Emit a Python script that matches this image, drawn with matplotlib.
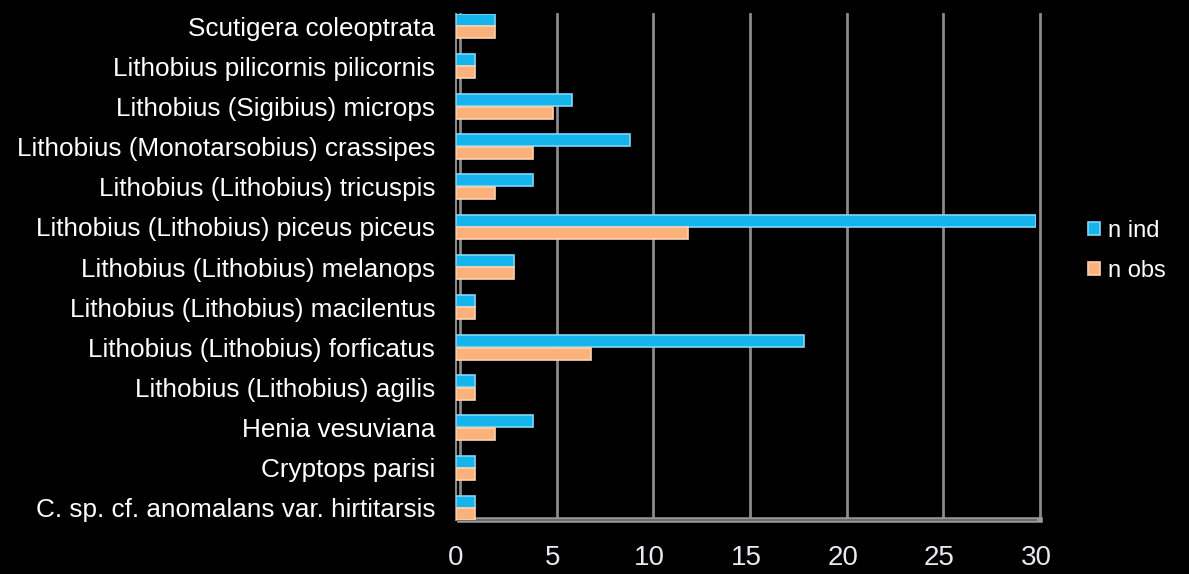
import matplotlib
matplotlib.use("Agg")
import matplotlib.pyplot as plt
import matplotlib.transforms as mtransforms
import numpy as np

categories = [
    "Scutigera coleoptrata",
    "Lithobius pilicornis pilicornis",
    "Lithobius (Sigibius) microps",
    "Lithobius (Monotarsobius) crassipes",
    "Lithobius (Lithobius) tricuspis",
    "Lithobius (Lithobius) piceus piceus",
    "Lithobius (Lithobius) melanops",
    "Lithobius (Lithobius) macilentus",
    "Lithobius (Lithobius) forficatus",
    "Lithobius (Lithobius) agilis",
    "Henia vesuviana",
    "Cryptops parisi",
    "C. sp. cf. anomalans var. hirtitarsis",
]
n_ind = [2, 1, 6, 9, 4, 30, 3, 1, 18, 1, 4, 1, 1]
n_obs = [2, 1, 5, 4, 2, 12, 3, 1, 7, 1, 2, 1, 1]
xticks = [0, 5, 10, 15, 20, 25, 30]

plt.rcParams['font.family'] = ['Liberation Sans', 'DejaVu Sans']

fig = plt.figure(figsize=(11.89, 5.74), dpi=100, facecolor='black')
ax = fig.add_axes([456/1189, (574-520)/574, (1036-456)/1189, (520-14)/574])
ax.set_facecolor('black')

y = np.arange(len(categories))
h = 0.3
blue = '#16b4ec'
orange = '#fbb27a'
ax.barh(y - 0.155, n_ind, height=h, color=blue, edgecolor='#7fd8f8', linewidth=1.2, zorder=3, label='n ind')
ax.barh(y + 0.155, n_obs, height=h, color=orange, edgecolor='#ffd2b0', linewidth=1.2, zorder=3, label='n obs')

# gridlines (back wall, slightly offset for pseudo-3D)
off = mtransforms.offset_copy(ax.transData, fig=fig, x=4, y=0, units='dots')
for t in xticks:
    ax.plot([t, t], [-0.3, 12.3], color='#8a8a8a', lw=2, transform=off, zorder=1, clip_on=False)

ax.set_xlim(0, 30)
ax.set_ylim(12.3, -0.3)
ax.set_yticks(y)
ax.set_yticklabels(categories, color='white', fontsize=18.8)
ax.set_xticks(xticks)
ax.set_xticklabels([str(t) for t in xticks], color='#e8e8f0', fontsize=20)
ax.tick_params(axis='both', length=0)
ax.tick_params(axis='y', pad=15)
ax.tick_params(axis='x', pad=18)
for s in ['top', 'right', 'bottom']:
    ax.spines[s].set_visible(False)
ax.spines['left'].set_color('#8a8a8a')
ax.spines['left'].set_linewidth(1.5)

# floor
ax.plot([0, 30], [12.3, 12.3], color='#9a9a9a', lw=4, transform=off, zorder=2, clip_on=False)
ax.plot([0, 30], [12.3, 12.3], color='#6a6a6a', lw=1.5, zorder=2, clip_on=False)

leg = fig.legend(loc='center left', bbox_to_anchor=(1067/1189, 1 - 251/574), frameon=False,
                 fontsize=17, labelcolor='white', handlelength=0.5, handleheight=0.5,
                 handletextpad=0.35, labelspacing=0.75)

fig.savefig('out.png', dpi=100, facecolor='black')
